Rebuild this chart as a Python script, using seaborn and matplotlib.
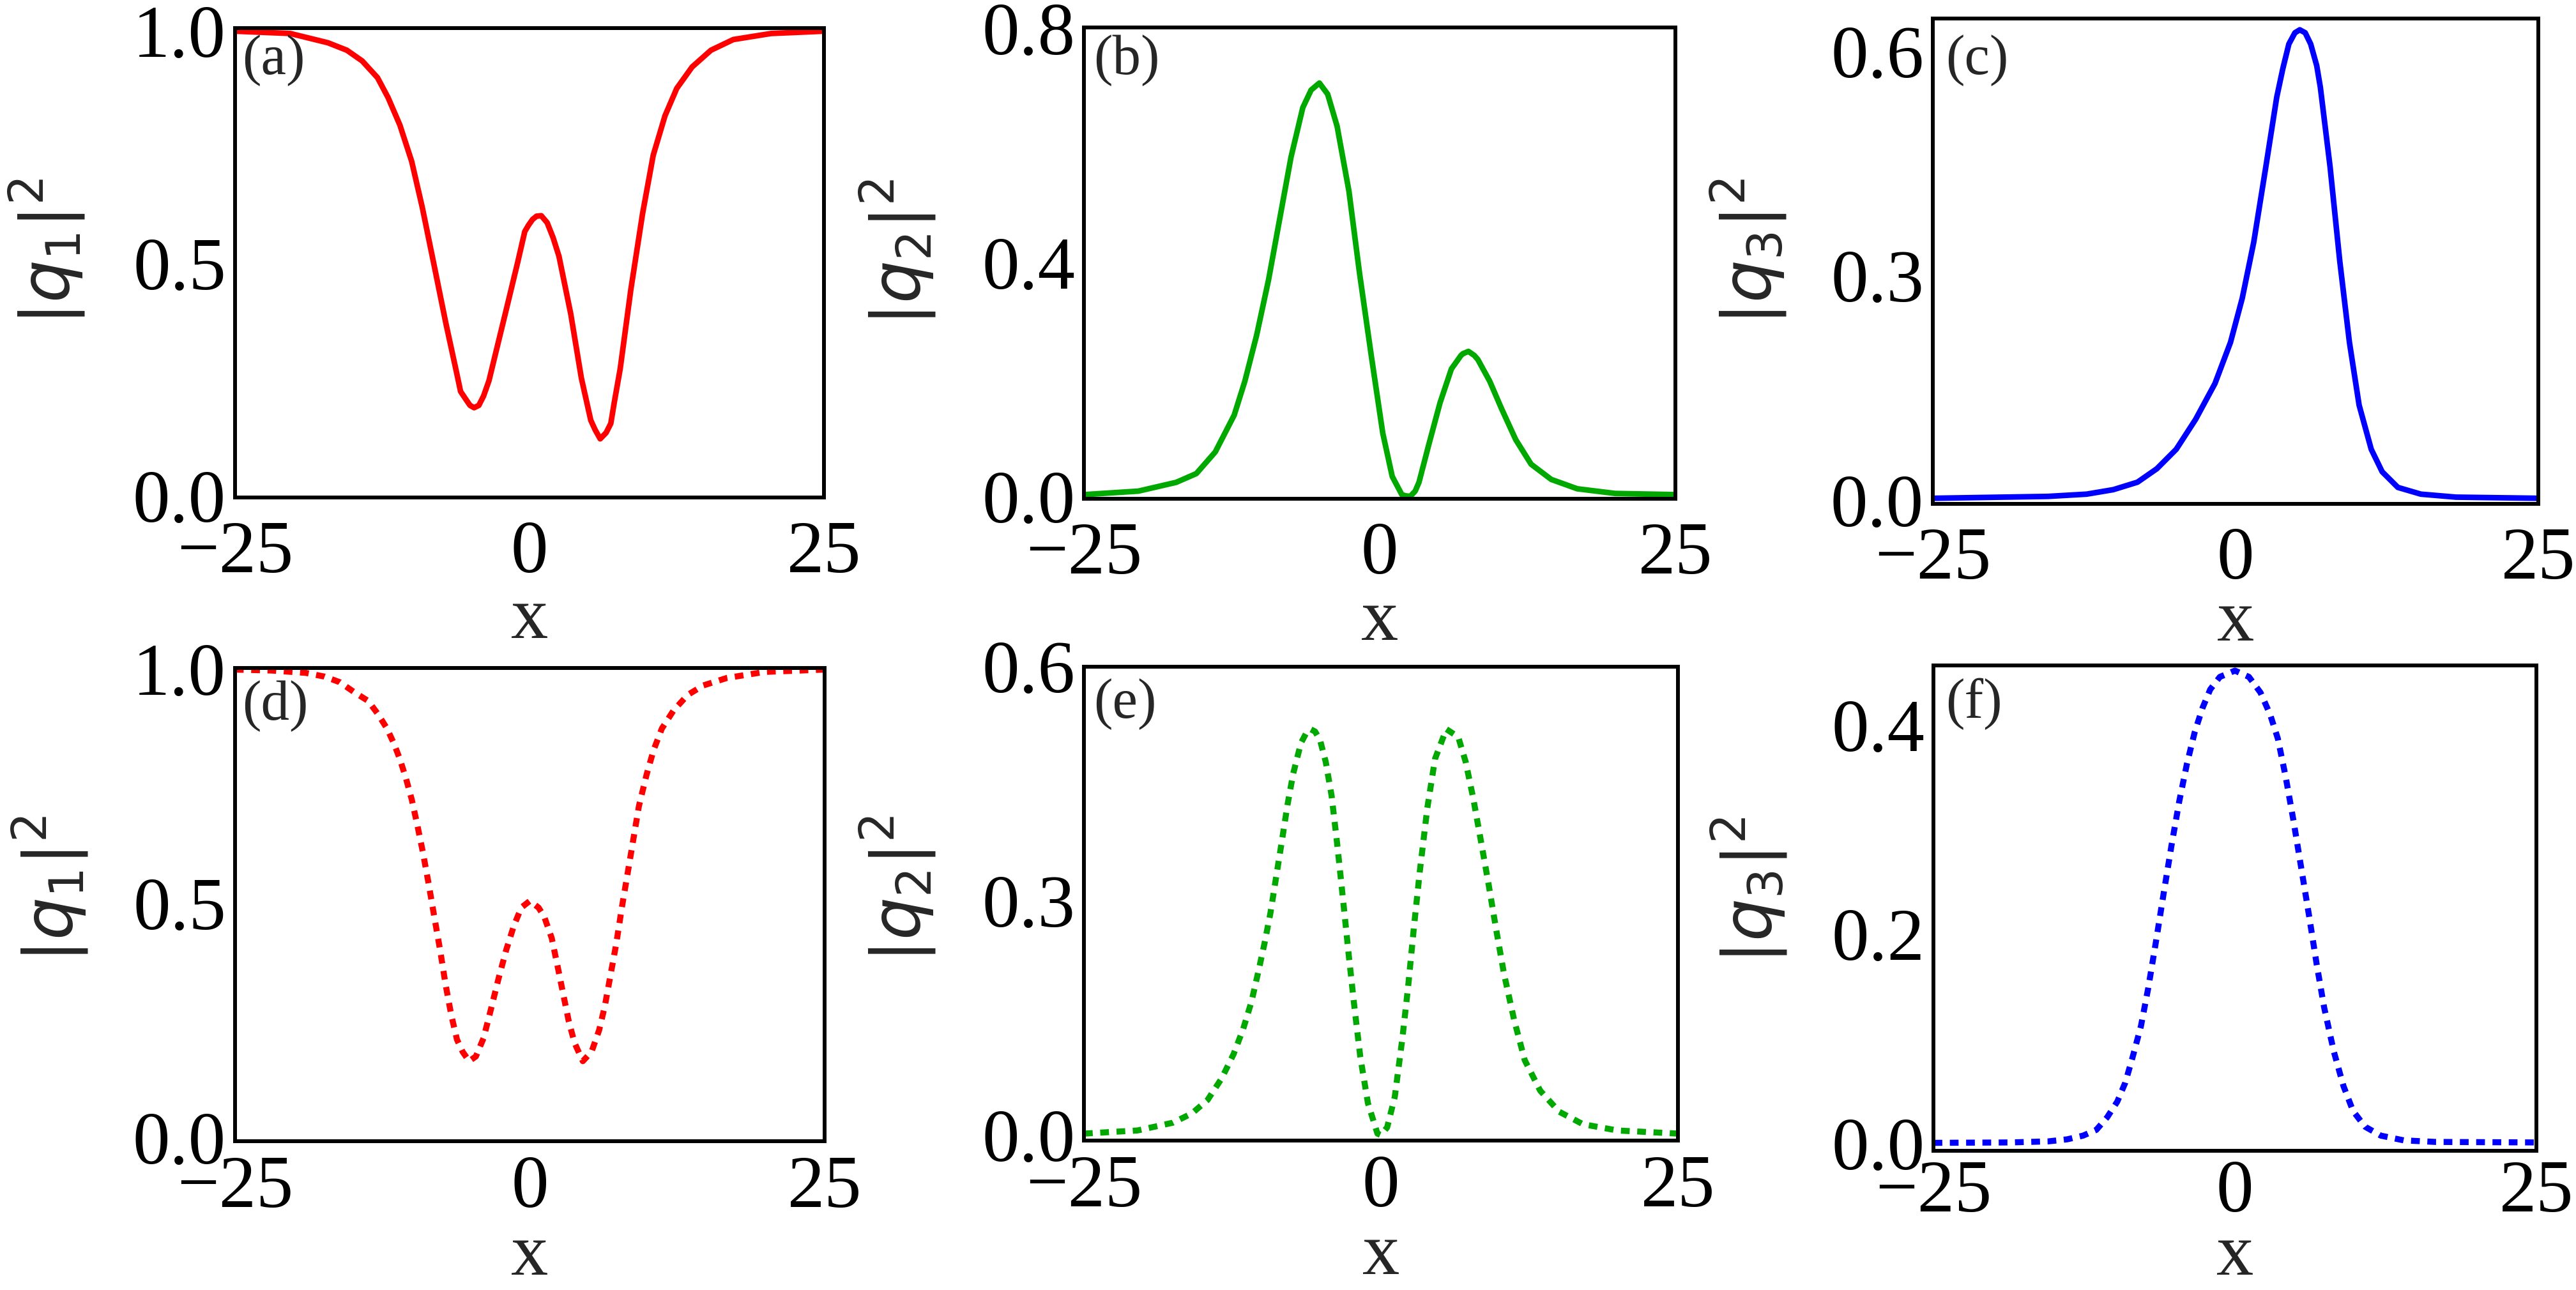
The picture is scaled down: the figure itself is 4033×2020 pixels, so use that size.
import numpy as np
import pandas as pd
import matplotlib
matplotlib.use("Agg")
import matplotlib.pyplot as plt
import seaborn as sns
from matplotlib.ticker import FormatStrFormatter

sns.set_style("white")
plt.rcParams['font.family'] = ['Liberation Serif', 'DejaVu Serif']
plt.rcParams['mathtext.fontset'] = 'dejavusans'
plt.rcParams['axes.unicode_minus'] = True

# (a) |q1|^2, solid
x_a = [-25, -20.3, -17.1, -15.5, -14.2, -12.9, -12.0, -11.0, -10.0, -9.1, -8.1, -7.1, -6.2, -5.85,
       -5.4, -5.05, -4.7, -4.3, -3.9, -3.44, -3.0, -2.0, -1.0, -0.4, -0.1, 0.26, 0.6, 1.0, 1.5, 2.0,
       2.5, 3.5, 4.4, 5.2, 5.56, 6.0, 6.5, 6.9, 7.2, 7.7, 8.6, 9.6, 10.5, 11.5, 12.5, 13.8, 15.4,
       17.3, 20.5, 25]
y_a = [1.0, 0.995, 0.975, 0.959, 0.936, 0.9, 0.857, 0.798, 0.72, 0.621, 0.497, 0.372, 0.267, 0.225,
       0.208, 0.195, 0.19, 0.195, 0.215, 0.248, 0.294, 0.398, 0.503, 0.569, 0.582, 0.595, 0.602, 0.603,
       0.588, 0.556, 0.516, 0.392, 0.254, 0.163, 0.143, 0.123, 0.136, 0.156, 0.202, 0.274, 0.444, 0.608,
       0.733, 0.818, 0.877, 0.923, 0.959, 0.982, 0.995, 1.0]

# (b) |q2|^2, solid
x_b = [-25, -20.4, -17.2, -15.5, -13.9, -12.3, -11.4, -10.4, -9.4, -8.45, -7.5, -6.5, -5.8, -5.1,
       -4.4, -3.6, -2.6, -1.7, -0.7, 0.26, 1.06, 1.87, 2.19, 2.58, 3.0, 3.32, 4.13, 5.1, 6.06, 6.87,
       7.03, 7.5, 8.0, 8.3, 9.3, 10.3, 11.5, 12.8, 14.5, 16.7, 19.9, 25]
y_b = [0.003, 0.009, 0.024, 0.039, 0.076, 0.139, 0.197, 0.276, 0.37, 0.475, 0.58, 0.665, 0.695, 0.707,
       0.688, 0.633, 0.522, 0.381, 0.239, 0.108, 0.034, 0.003, 0.001, 0.0, 0.009, 0.024, 0.087, 0.16,
       0.218, 0.241, 0.244, 0.248, 0.241, 0.234, 0.197, 0.15, 0.097, 0.055, 0.029, 0.013, 0.005, 0.003]

# (c) |q3|^2, solid
x_c = [-25, -15.5, -12.3, -10.1, -8.1, -6.5, -4.9, -3.3, -1.7, -0.42, 0.55, 1.5, 2.5, 3.4, 3.9,
       4.4, 4.9, 5.3, 5.75, 6.2, 6.7, 7.0, 7.8, 8.6, 9.4, 10.2, 11.2, 12.1, 13.4, 15.3, 18.2, 25]
y_c = [0.0025, 0.005, 0.008, 0.014, 0.024, 0.042, 0.068, 0.108, 0.156, 0.211, 0.27, 0.345, 0.446, 0.539,
       0.577, 0.61, 0.625, 0.629, 0.625, 0.61, 0.581, 0.552, 0.446, 0.32, 0.211, 0.127, 0.068, 0.038,
       0.017, 0.008, 0.004, 0.0025]

# (d) |q1|^2, dotted
x_d = [-25, -21.9, -19.0, -17.4, -16.1, -14.9, -13.7, -12.9, -12.1, -11.5, -11.0, -10.5, -10.0, -9.55,
       -9.07, -8.59, -8.1, -7.6, -7.14, -6.66, -6.17, -5.69, -5.14, -4.57, -3.92, -3.28, -2.64, -2.0,
       -1.35, -0.71, 0.0, 0.74, 1.22, 1.86, 2.35, 2.83, 3.31, 3.8, 4.5, 5.24, 5.88, 6.37, 6.85, 7.33,
       7.81, 8.3, 8.78, 9.26, 9.9, 10.5, 11.2, 12.2, 13.4, 14.7, 16.7, 19.9, 25]
y_d = [0.999, 0.997, 0.992, 0.984, 0.972, 0.951, 0.932, 0.905, 0.873, 0.84, 0.807, 0.767, 0.721, 0.669,
       0.61, 0.544, 0.472, 0.4, 0.327, 0.262, 0.209, 0.183, 0.163, 0.173, 0.212, 0.275, 0.34, 0.4,
       0.452, 0.491, 0.505, 0.491, 0.472, 0.426, 0.367, 0.307, 0.248, 0.202, 0.163, 0.183, 0.229, 0.281,
       0.347, 0.413, 0.491, 0.564, 0.636, 0.708, 0.774, 0.827, 0.873, 0.912, 0.945, 0.965, 0.981, 0.994, 0.999]

# (e) |q2|^2, dotted
x_e = [-25, -20.5, -17.5, -15.9, -14.6, -13.4, -12.4, -11.6, -10.9, -10.3, -9.8, -9.3, -8.8, -8.35,
       -7.87, -7.39, -6.74, -6.26, -5.94, -5.55, -5.13, -4.65, -4.16, -3.68, -3.19, -2.71, -2.23, -1.74,
       -1.1, -0.3, 0.0, 0.52, 1.16, 1.8, 2.29, 2.77, 3.26, 3.9, 4.55, 5.5, 6.5, 7.13, 7.77, 8.42, 9.06,
       9.71, 10.35, 11.2, 12.1, 13.4, 15.0, 17.0, 19.9, 25]
y_e = [0.002, 0.006, 0.016, 0.028, 0.045, 0.073, 0.104, 0.136, 0.171, 0.211, 0.246, 0.285, 0.333, 0.376,
       0.423, 0.463, 0.502, 0.516, 0.52, 0.517, 0.506, 0.478, 0.435, 0.372, 0.301, 0.23, 0.163, 0.1,
       0.041, 0.002, 0.0, 0.01, 0.049, 0.124, 0.191, 0.266, 0.337, 0.419, 0.482, 0.52, 0.51, 0.478, 0.431,
       0.376, 0.321, 0.262, 0.207, 0.148, 0.096, 0.057, 0.03, 0.014, 0.006, 0.002]

# (f) |q3|^2, dotted
x_f = [-25, -18.7, -15.5, -13.9, -12.6, -11.5, -10.6, -9.76, -9.1, -8.5, -7.8, -7.2, -6.55, -5.9,
       -5.26, -4.62, -3.98, -3.34, -2.7, -2.05, -1.25, 0.0, 1.16, 2.12, 2.92, 3.56, 4.2, 4.85, 5.49,
       6.13, 6.77, 7.4, 8.2, 9.0, 9.8, 10.8, 12.1, 14.0, 16.6, 25]
y_f = [0.0006, 0.001, 0.002, 0.004, 0.0075, 0.013, 0.025, 0.04, 0.058, 0.082, 0.112, 0.148, 0.193, 0.24,
       0.285, 0.327, 0.363, 0.393, 0.416, 0.434, 0.446, 0.452, 0.446, 0.431, 0.41, 0.387, 0.351, 0.309, 0.264,
       0.219, 0.172, 0.13, 0.088, 0.055, 0.031, 0.016, 0.0075, 0.003, 0.0015, 0.001]

panels = [
    # x, y, colour, dotted, axes rect, ylim, yticks, tag, ylabel, tag pos, ylabel pos, xlabel y, xtick pad
    (x_a, y_a, '#FF0000', False, [0.0912, 0.6144, 0.2287, 0.3636], (-0.003, 1.006), [0.0, 0.5, 1.0],
     '(a)', r'$|q_1|^2$', (0.012, 0.987), (-0.25, 0.524), -0.19, 26),
    (x_b, y_b, '#00A800', False, [0.4208, 0.6134, 0.2296, 0.3653], (-0.004, 0.802), [0.0, 0.4, 0.8],
     '(b)', r'$|q_2|^2$', (0.016, 0.985), (-0.246, 0.524), -0.19, 26),
    (x_c, y_c, '#0000FF', False, [0.7503, 0.6094, 0.2351, 0.3762], (-0.005, 0.644), [0.0, 0.3, 0.6],
     '(c)', r'$|q_3|^2$', (0.021, 0.967), (-0.237, 0.52), -0.175, 26),
    (x_d, y_d, '#FF0000', True, [0.0912, 0.1153, 0.2289, 0.3671], (-0.008, 1.003), [0.0, 0.5, 1.0],
     '(d)', r'$|q_1|^2$', (0.012, 0.974), (-0.245, 0.533), -0.172, 16),
    (x_e, y_e, '#00A800', True, [0.4208, 0.1158, 0.2306, 0.3674], (-0.007, 0.6), [0.0, 0.3, 0.6],
     '(e)', r'$|q_2|^2$', (0.016, 0.976), (-0.245, 0.531), -0.172, 16),
    (x_f, y_f, '#0000FF', True, [0.7506, 0.1079, 0.2340, 0.3763], (-0.007, 0.457), [0.0, 0.2, 0.4],
     '(f)', r'$|q_3|^2$', (0.02, 0.974), (-0.239, 0.537), -0.148, 10),
]

fig = plt.figure(figsize=(40.33, 20.2), dpi=100)

for x, y, col, dotted, rect, ylim, yt, tag, ylab, tagpos, labpos, xlab_y, xpad in panels:
    ax = fig.add_axes(rect)
    df = pd.DataFrame({'x': x, 'y': y})
    if dotted:
        sns.lineplot(data=df, x='x', y='y', ax=ax, color=col, linewidth=6.8,
                     linestyle=(0, (1.45, 1.25)), dash_capstyle='butt', sort=False)
    else:
        sns.lineplot(data=df, x='x', y='y', ax=ax, color=col, linewidth=6.3,
                     solid_joinstyle='round', sort=False)
    ax.set_xlim(-25, 25)
    ax.set_ylim(*ylim)
    ax.set_xticks([-25, 0, 25])
    ax.set_yticks(yt)
    ax.yaxis.set_major_formatter(FormatStrFormatter('%.1f'))
    ax.tick_params(direction='in', length=8.5, width=4.3, labelsize=84,
                   top=False, right=False, colors='black')
    ax.tick_params(axis='x', pad=xpad)
    ax.tick_params(axis='y', pad=10)
    for s in ax.spines.values():
        s.set_linewidth(4.3)
        s.set_color('black')
        s.set_visible(True)
    ax.set_xlabel('x', fontsize=84)
    ax.xaxis.set_label_coords(0.5, xlab_y)
    ax.set_ylabel(ylab, fontsize=76)
    ax.yaxis.set_label_coords(labpos[0], labpos[1])
    ax.text(tagpos[0], tagpos[1], tag, transform=ax.transAxes, fontsize=64,
            ha='left', va='top')

fig.savefig('out.png', dpi=100, facecolor='white')
